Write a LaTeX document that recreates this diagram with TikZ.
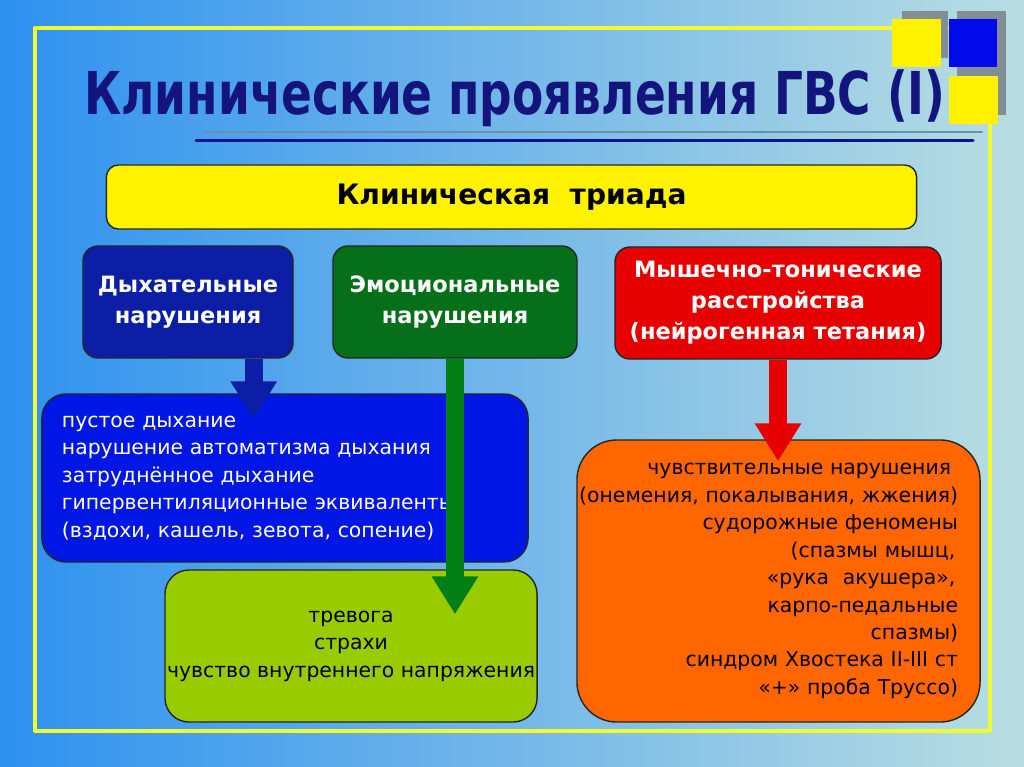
\documentclass[tikz,border=0pt]{standalone}
\usepackage{fontspec}
\setmainfont{DejaVu Sans}
\usepackage{graphicx}
\usetikzlibrary{arrows.meta,positioning}

\definecolor{bgleft}{RGB}{45,145,240}
\definecolor{bgright}{RGB}{185,222,226}
\definecolor{framey}{RGB}{240,250,50}
\definecolor{sqgray}{RGB}{130,142,150}
\definecolor{sqblue}{RGB}{0,10,235}
\definecolor{titlenavy}{RGB}{20,20,125}
\definecolor{linegray}{RGB}{105,145,170}
\definecolor{linenavy}{RGB}{10,20,140}
\definecolor{respblue}{RGB}{12,30,165}
\definecolor{listblue}{RGB}{0,22,228}
\definecolor{emotgreen}{RGB}{5,112,25}
\definecolor{arrgreen}{RGB}{0,128,20}
\definecolor{muscred}{RGB}{230,0,0}
\definecolor{listorange}{RGB}{255,102,0}
\definecolor{listlime}{RGB}{153,204,0}

\begin{document}
\begin{tikzpicture}[
  x=0.025cm,y=-0.025cm,
  line cap=round,line join=round,
  box/.style={draw=black!85,line width=1pt,rounded corners=0.375cm,
    align=center,inner sep=0pt},
  headbox/.style={box,minimum height=2.8cm,text=white,
    font=\fontsize{16}{22}\selectfont\bfseries},
  listbox/.style={box,font=\fontsize{14.5}{19.5}\selectfont},
  fatarrow/.style={line width=0.45cm,line cap=butt,
    -{Triangle[width=1.1cm,length=0.95cm]}}
]
  % Background and frame
  \useasboundingbox (0,0) rectangle (1024,767);
  \shade[left color=bgleft,right color=bgright] (0,0) rectangle (1024,767);
  \draw[framey,line width=0.1cm,line cap=butt] (35,28) rectangle (990,731);

  % Corner squares
  \fill[sqgray] (902,11) rectangle (948,58);
  \fill[sqgray] (957,11) rectangle (1006,115);
  \fill[yellow] (892,19) rectangle (941,67);
  \fill[sqblue] (949,19) rectangle (997,67);
  \fill[yellow] (949,76) rectangle (998,124);

  % Title
  \node[text=titlenavy] (title) at (515,98)
    {\scalebox{0.77}[1]{\fontsize{42}{48}\selectfont\bfseries Клинические проявления ГВС (I)}};
  \draw[linegray,line width=0.05cm] (205,132) -- (982,132);
  \draw[linenavy,line width=0.075cm] (196,141) -- (973,141);

  % Triad
  \node[box,fill=yellow,rounded corners=0.3cm,minimum width=20.25cm,minimum height=1.6cm,
    font=\fontsize{20}{24}\selectfont\bfseries] (triad) at (511.5,197)
    {Клиническая\ \ триада};

  % Three groups
  \node[headbox,fill=respblue,minimum width=5.25cm] (resp) at (188,302)
    {Дыхательные\\нарушения};
  \node[headbox,fill=emotgreen,minimum width=6.1cm] (emot) at (455,302)
    {Эмоциональные\\нарушения};
  \node[headbox,fill=muscred,minimum width=8.15cm] (musc) at (778,303)
    {Мышечно-тонические\\расстройства\\(нейрогенная тетания)};

  % Symptom lists
  \node[listbox,fill=listblue,text=white,rounded corners=0.6cm,align=left,
    text width=11.15cm,inner xsep=0.5cm,minimum height=4.2cm] (respl) at (285,478)
    {пустое дыхание\\
     нарушение автоматизма дыхания\\
     затруднённое дыхание\\
     гипервентиляционные эквиваленты\\
     (вздохи, кашель, зевота, сопение)};
  \node[listbox,fill=listlime,rounded corners=0.6cm,minimum width=9.3cm,
    minimum height=3.8cm] (emotl) at (351,646)
    {тревога\\страхи\\чувство внутреннего напряжения};
  \node[listbox,fill=listorange,rounded corners=1cm,align=right,
    text width=8.975cm,inner xsep=0.55cm,minimum height=7.05cm] (muscl) at (778.5,581)
    {чувствительные нарушения\kern5pt\\
     \leavevmode\llap{(онемения, покалывания, жжения)}\\
     судорожные феномены\\
     (спазмы мышц,\kern2pt\\
     «рука\ \ акушера»,\kern2pt\\
     карпо-педальные\\
     спазмы)\\
     синдром Хвостека II-III ст\\
     «+» проба Труссо)};

  % Arrows
  \draw[fatarrow,draw=respblue,shorten >=-0.65cm]
    ([xshift=-1cm]resp.south east) -- ([xshift=-1cm]resp.south east |- respl.north);
  \draw[fatarrow,draw=arrgreen,shorten >=-1.125cm]
    (emot.south) -- (emot.south |- emotl.north);
  \draw[fatarrow,draw=muscred,shorten >=-0.55cm]
    (musc.south) -- (musc.south |- muscl.north);
\end{tikzpicture}
\end{document}
